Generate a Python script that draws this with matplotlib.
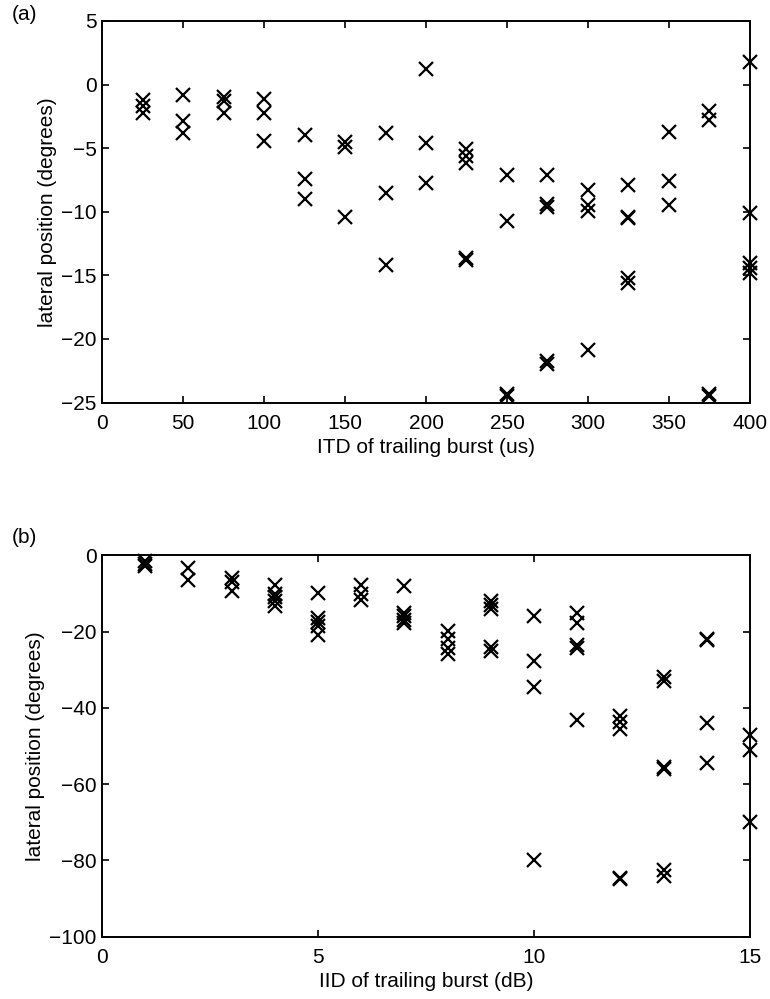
import matplotlib
matplotlib.use("Agg")
import matplotlib.pyplot as plt

plt.rcParams['font.family'] = ['Liberation Sans', 'DejaVu Sans']

# (a) ITD of trailing burst (us) -> lateral position (degrees)
itd_x = [25, 25, 25,
         50, 50, 50,
         75, 75, 75,
         100, 100, 100,
         125, 125, 125,
         150, 150, 150,
         175, 175, 175,
         200, 200, 200,
         225, 225, 225, 225, 225,
         250, 250, 250, 250,
         275, 275, 275, 275, 275,
         300, 300, 300, 300,
         325, 325, 325, 325, 325,
         350, 350, 350,
         375, 375, 375, 375,
         400, 400, 400, 400, 400]
itd_y = [-1.2, -1.7, -2.2,
         -0.8, -2.9, -3.8,
         -1.0, -1.3, -2.2,
         -1.1, -2.2, -4.4,
         -4.0, -7.4, -9.0,
         -4.5, -4.9, -10.4,
         -3.8, -8.5, -14.2,
         1.2, -4.6, -7.7,
         -5.1, -5.6, -6.2, -13.6, -13.8,
         -7.1, -10.7, -24.3, -24.5,
         -7.1, -9.4, -9.6, -21.7, -22.0,
         -8.3, -9.5, -9.9, -20.9,
         -7.9, -10.4, -10.5, -15.2, -15.6,
         -3.7, -7.6, -9.5,
         -2.1, -2.8, -24.3, -24.5,
         1.8, -10.1, -14.0, -14.4, -14.8]

# (b) IID of trailing burst (dB) -> lateral position (degrees)
iid_x = [1, 1, 1,
         2, 2,
         3, 3, 3,
         4, 4, 4, 4, 4,
         5, 5, 5, 5, 5,
         6, 6, 6,
         7, 7, 7, 7, 7,
         8, 8, 8, 8,
         9, 9, 9, 9, 9,
         10, 10, 10, 10,
         11, 11, 11, 11, 11,
         12, 12, 12, 12, 12,
         13, 13, 13, 13, 13, 13,
         14, 14, 14, 14,
         15, 15, 15]
iid_y = [-1.5, -2.2, -2.8,
         -3.2, -6.4,
         -6.0, -7.0, -9.3,
         -7.8, -10.0, -11.0, -12.0, -13.2,
         -9.9, -16.5, -17.5, -18.5, -20.8,
         -7.8, -10.0, -11.6,
         -7.9, -15.2, -16.0, -17.0, -17.8,
         -19.9, -22.0, -24.2, -25.8,
         -12.0, -13.0, -14.0, -24.0, -25.2,
         -16.0, -27.8, -34.6, -79.8,
         -15.2, -17.8, -23.6, -24.2, -43.2,
         -42.0, -43.8, -45.5, -84.6, -85.0,
         -31.8, -33.0, -55.4, -56.0, -82.6, -84.2,
         -22.0, -22.3, -44.0, -54.4,
         -47.1, -51.1, -69.9]

fig = plt.figure(figsize=(7.7, 9.99), dpi=100)
ax1 = fig.add_axes([0.1325, 0.597, 0.8415, 0.382])
ax2 = fig.add_axes([0.1325, 0.0625, 0.8415, 0.3815])


def style(ax):
    for s in ax.spines.values():
        s.set_linewidth(1.4)
    ax.tick_params(direction='in', top=True, right=True, length=5,
                   width=1.2, labelsize=15, pad=4)
    ax.tick_params(axis='x', pad=8)


ax1.plot(itd_x, itd_y, 'x', color='black', markersize=10,
         markeredgewidth=1.6, clip_on=False)
ax1.set_xlim(0, 400)
ax1.set_ylim(-25, 5)
ax1.set_xticks(range(0, 401, 50))
ax1.set_yticks(range(-25, 6, 5))
ax1.set_yticklabels([str(v).replace('-', '\u2212') for v in range(-25, 6, 5)])
ax1.set_xlabel("ITD of trailing burst (us)", fontsize=15, labelpad=4)
ax1.set_ylabel("lateral position (degrees)", fontsize=15, labelpad=3)
style(ax1)
fig.text(0.015, 0.985, "(a)", fontsize=15, va='center')

ax2.plot(iid_x, iid_y, 'x', color='black', markersize=10,
         markeredgewidth=1.6, clip_on=False)
ax2.set_xlim(0, 15)
ax2.set_ylim(-100, 0)
ax2.set_xticks([0, 5, 10, 15])
ax2.set_yticks(range(-100, 1, 20))
ax2.set_yticklabels([str(v).replace('-', '\u2212') for v in range(-100, 1, 20)])
ax2.set_xlabel("IID of trailing burst (dB)", fontsize=15, labelpad=4)
ax2.set_ylabel("lateral position (degrees)", fontsize=15, labelpad=3)
style(ax2)
fig.text(0.015, 0.462, "(b)", fontsize=15, va='center')

fig.savefig("out.png", dpi=100)
